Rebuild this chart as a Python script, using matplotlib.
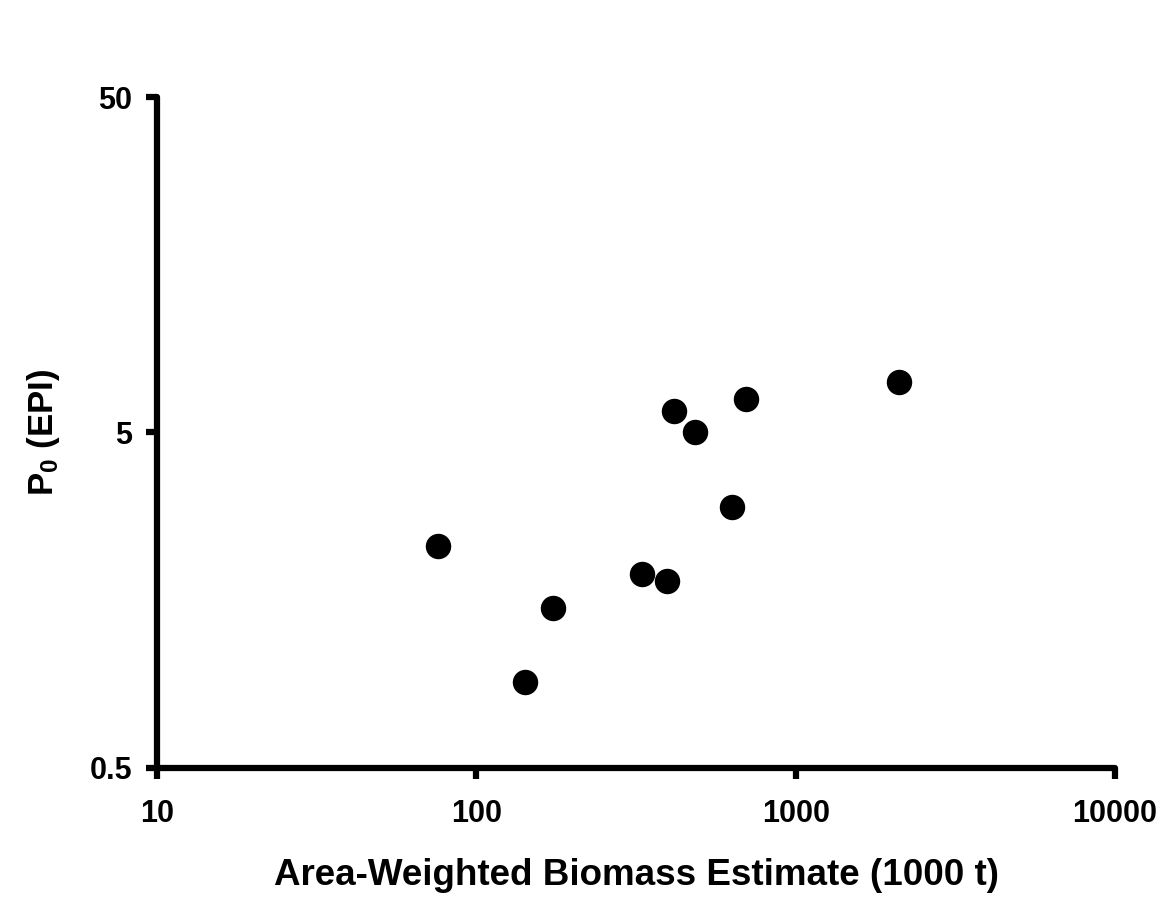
import matplotlib.pyplot as plt
from matplotlib.ticker import FixedLocator, FixedFormatter, NullLocator

plt.rcParams['font.family'] = ['Liberation Sans', 'DejaVu Sans']
plt.rcParams['font.weight'] = 'bold'
plt.rcParams['mathtext.fontset'] = 'custom'
plt.rcParams['mathtext.rm'] = 'Liberation Sans:bold'
plt.rcParams['mathtext.bf'] = 'Liberation Sans:bold'
plt.rcParams['mathtext.default'] = 'bf'

# biomass estimate (1000 t) vs P0 (EPI)
biomass = [76, 142, 174, 330, 395, 416, 484, 632, 700, 2110]
p0 = [2.29, 0.90, 1.50, 1.89, 1.80, 5.80, 5.0, 3.0, 6.29, 7.07]

xticks = [10, 100, 1000, 10000]
xticklabels = ['10', '100', '1000', '10000']
yticks = [0.5, 5, 50]
yticklabels = ['0.5', '5', '50']

fig = plt.figure(figsize=(11.62, 9), dpi=100)
ax = fig.add_axes([0.1351, 0.1467, 0.8245, 0.7455])

ax.scatter(biomass, p0, s=24**2 * 0.52, color='black', zorder=3, clip_on=False)

ax.set_xscale('log')
ax.set_yscale('log')
ax.set_xlim(10, 10000)
ax.set_ylim(0.5, 50)

ax.xaxis.set_major_locator(FixedLocator(xticks))
ax.xaxis.set_major_formatter(FixedFormatter(xticklabels))
ax.xaxis.set_minor_locator(NullLocator())
ax.yaxis.set_major_locator(FixedLocator(yticks))
ax.yaxis.set_major_formatter(FixedFormatter(yticklabels))
ax.yaxis.set_minor_locator(NullLocator())

for side in ['top', 'right']:
    ax.spines[side].set_visible(False)
for side in ['left', 'bottom']:
    ax.spines[side].set_linewidth(4.5)
    ax.spines[side].set_capstyle('round')

ax.tick_params(axis='both', which='major', direction='out', length=8, width=4.5,
               labelsize=22)
ax.tick_params(axis='x', pad=14)
ax.tick_params(axis='y', pad=10)

ax.set_xlabel('Area-Weighted Biomass Estimate (1000 t)', fontsize=26.5,
              fontweight='bold', labelpad=21)
ax.set_ylabel(r'P$_0$ (EPI)', fontsize=25, fontweight='bold', labelpad=20)

fig.savefig('out.png', dpi=100, facecolor='white')
